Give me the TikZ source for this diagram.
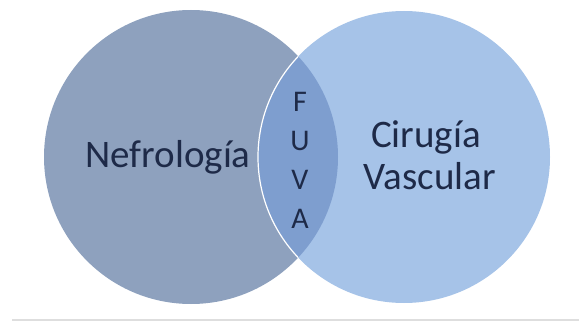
\documentclass[tikz,border=0pt]{standalone}
\usepackage{fontspec}
\setmainfont{Carlito}
\definecolor{NefroBlue}{RGB}{142,161,190}
\definecolor{VascBlue}{RGB}{166,195,232}
\definecolor{LensBlue}{RGB}{126,158,207}
\definecolor{InkBlue}{RGB}{30,42,72}
\usetikzlibrary{positioning}

\begin{document}
\begin{tikzpicture}[x=1pt, y=1pt,
        areatext/.style={text=InkBlue, font=\fontsize{39}{43}\selectfont, inner sep=0pt, anchor=base},
        letter/.style={text=InkBlue, font=\fontsize{30}{36}\selectfont, inner sep=0pt, anchor=base},
        rule/.style={draw=black!13, line width=2pt}
    ]
        \useasboundingbox (0,0) rectangle (579,322);
        \coordinate (cl) at (191,165);
        \coordinate (cr) at (404,165);
        % the two circles
        \fill[NefroBlue] (cl) circle (147);
        \fill[VascBlue] (cr) circle (146);
        % overlap
        \begin{scope}
            \clip (cl) circle (147);
            \fill[LensBlue] (cr) circle (146);
            \draw[white, line width=1.2pt] (cr) circle (146);
        \end{scope}
        \node[areatext] (nefro) at (168,154) {Nefrología};
        \node[areatext] (cirugia) at (426,175) {Cirugía};
        \node[areatext] (vascular) at (430,132) {Vascular};
        \foreach \ch [count=\i] in {F,U,V,A}
            \node[letter] (fuva\i) at (300,210-38.7*\i+38.7) {\ch};
        \coordinate (ruleL) at (12,2.5);
        \coordinate (ruleR) at (579,2.5);
        \draw[rule] (ruleL) -- (ruleR);
    \end{tikzpicture}
\end{document}
